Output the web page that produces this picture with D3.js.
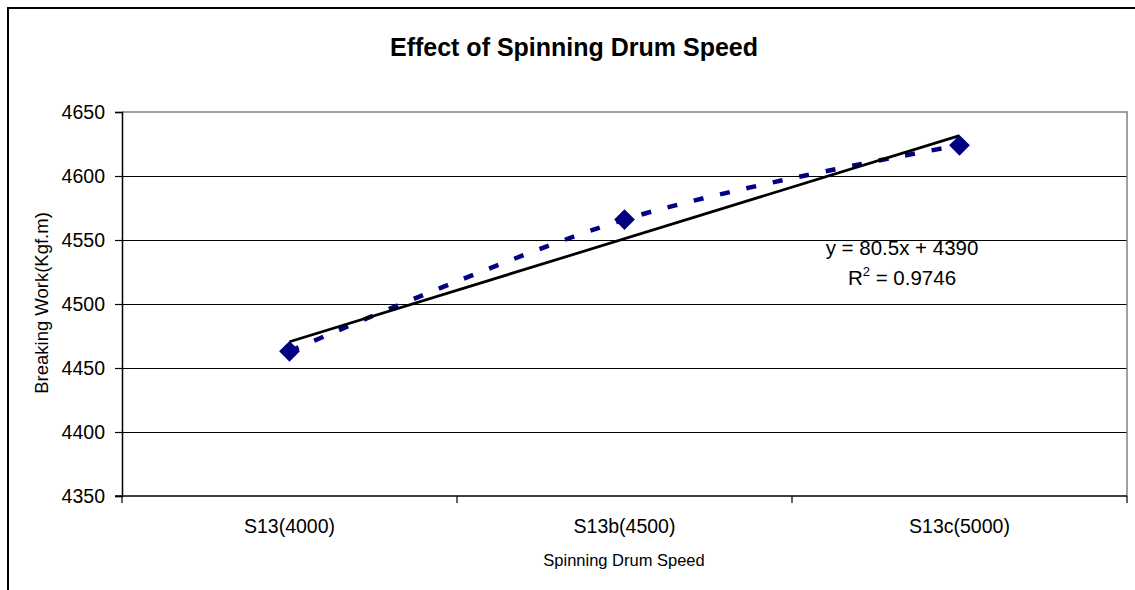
<!DOCTYPE html>
<html>
<head>
<meta charset="utf-8">
<script src="https://cdn.jsdelivr.net/npm/d3@7"></script>
<style>
  html, body { margin: 0; padding: 0; background: #fff; }
  svg { display: block; font-family: "Liberation Sans", Arial, sans-serif; }
</style>
</head>
<body>
<svg id="chart" width="1135" height="590"></svg>
<script>
// ---- data ----
const categories = ["S13(4000)", "S13b(4500)", "S13c(5000)"];
const breakingWork = [4463, 4566, 4624];
const yTicks = [4350, 4400, 4450, 4500, 4550, 4600, 4650];
const trendSlope = 80.5;
const trendIntercept = 4390;
const titleText = "Effect of Spinning Drum Speed";
const xTitleText = "Spinning Drum Speed";
const yTitleText = "Breaking Work(Kgf.m)";
const eqText = "y = 80.5x + 4390";
const r2Value = "0.9746";

// ---- layout ----
const svg = d3.select("#chart");
const plot = { left: 122, right: 1127, top: 112, bottom: 496 };

const x = d3.scaleBand().domain(categories).range([plot.left, plot.right]).padding(0);
const y = d3.scaleLinear().domain([4350, 4650]).range([plot.bottom, plot.top]);
const xIdx = d3.scaleLinear().domain([1, categories.length])
  .range([x(categories[0]) + x.bandwidth() / 2, x(categories[categories.length - 1]) + x.bandwidth() / 2]);

// outer chart frame
svg.append("rect")
  .attr("x", 8).attr("y", 8).attr("width", 1150).attr("height", 620)
  .attr("fill", "#fff").attr("stroke", "#000").attr("stroke-width", 2);

// title
svg.append("text")
  .attr("x", 574).attr("y", 56)
  .attr("text-anchor", "middle")
  .attr("font-size", 25).attr("font-weight", "bold")
  .text(titleText);

// gridlines
svg.append("g").selectAll("line")
  .data(yTicks.filter(t => t > 4350 && t < 4650))
  .join("line")
  .attr("x1", plot.left).attr("x2", plot.right)
  .attr("y1", d => y(d)).attr("y2", d => y(d))
  .attr("stroke", "#000").attr("stroke-width", 1)
  .attr("shape-rendering", "crispEdges");

// plot border top/right (gray)
svg.append("path")
  .attr("d", `M${plot.left},${y(4650)}H${plot.right}V${plot.bottom}`)
  .attr("fill", "none").attr("stroke", "#808080").attr("stroke-width", 1.5);

// y axis
const yAxis = d3.axisLeft(y).tickValues(yTicks).tickSize(7).tickPadding(10).tickFormat(d3.format("d"));
const gy = svg.append("g").attr("transform", `translate(${plot.left},0)`).call(yAxis);
gy.select(".domain").attr("stroke", "#000").attr("stroke-width", 1.5);
gy.selectAll(".tick line").attr("stroke", "#000").attr("stroke-width", 1.2);
gy.selectAll(".tick text").attr("font-size", 19.5).attr("fill", "#000")
  .attr("font-family", "Liberation Sans, Arial, sans-serif");

// x axis line
svg.append("line")
  .attr("x1", plot.left - 7).attr("x2", plot.right)
  .attr("y1", plot.bottom).attr("y2", plot.bottom)
  .attr("stroke", "#000").attr("stroke-width", 1.5);

// x ticks at band boundaries
const boundaries = categories.map(c => x(c)).concat([x.range()[1]]);
svg.append("g").selectAll("line")
  .data(boundaries)
  .join("line")
  .attr("x1", d => d).attr("x2", d => d)
  .attr("y1", plot.bottom).attr("y2", plot.bottom + 7)
  .attr("stroke", "#000").attr("stroke-width", 1.2);

// category labels
svg.append("g").selectAll("text")
  .data(categories)
  .join("text")
  .attr("x", d => x(d) + x.bandwidth() / 2)
  .attr("y", 533)
  .attr("text-anchor", "middle")
  .attr("font-size", 19.5)
  .text(d => d);

// axis titles
svg.append("text")
  .attr("x", 624).attr("y", 566)
  .attr("text-anchor", "middle")
  .attr("font-size", 16.5)
  .text(xTitleText);

svg.append("text")
  .attr("transform", "translate(48,303) rotate(-90)")
  .attr("text-anchor", "middle")
  .attr("font-size", 18.5)
  .text(yTitleText);

// data points
const pts = categories.map((c, i) => ({ c, v: breakingWork[i] }));

// smoothed dashed series line
const line = d3.line()
  .x(d => x(d.c) + x.bandwidth() / 2)
  .y(d => y(d.v))
  .curve(d3.curveCardinal.tension(0));

svg.append("path")
  .datum(pts)
  .attr("d", line)
  .attr("fill", "none")
  .attr("stroke", "#000080")
  .attr("stroke-width", 4.5)
  .attr("stroke-dasharray", "10,17");

// linear trendline
const trendPts = d3.range(1, categories.length + 1).map(i => ({ i, v: trendSlope * i + trendIntercept }));
svg.append("path")
  .datum([trendPts[0], trendPts[trendPts.length - 1]])
  .attr("d", d3.line().x(d => xIdx(d.i)).y(d => y(d.v)))
  .attr("fill", "none")
  .attr("stroke", "#000")
  .attr("stroke-width", 2.75);

// diamond markers
const diamond = d3.symbol().type(d3.symbolSquare).size(215);
svg.append("g").selectAll("path")
  .data(pts)
  .join("path")
  .attr("d", diamond)
  .attr("transform", d => `translate(${x(d.c) + x.bandwidth() / 2},${y(d.v)}) rotate(45)`)
  .attr("fill", "#000080");

// trendline equation
svg.append("text")
  .attr("x", 902).attr("y", 255)
  .attr("text-anchor", "middle")
  .attr("font-size", 20.5)
  .text(eqText);

const r2 = svg.append("text")
  .attr("x", 902).attr("y", 285)
  .attr("text-anchor", "middle")
  .attr("font-size", 20.5);
r2.append("tspan").text("R");
r2.append("tspan").attr("font-size", 13).attr("dy", -9).text("2");
r2.append("tspan").attr("dy", 9).text(" = " + r2Value);
</script>
</body>
</html>
